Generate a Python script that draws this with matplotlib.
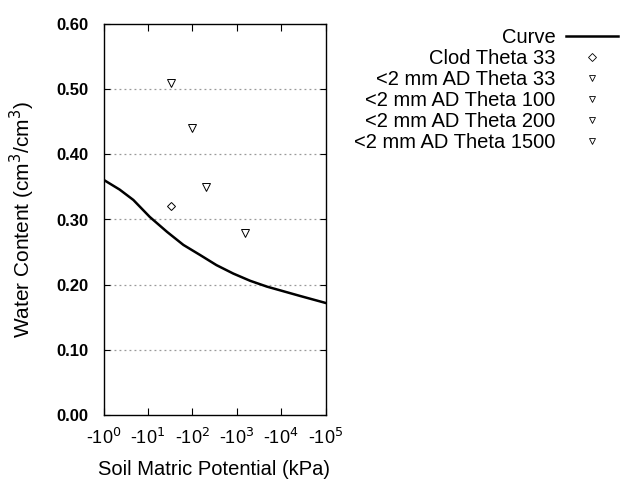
import matplotlib
matplotlib.use("Agg")
import matplotlib.pyplot as plt
from matplotlib.lines import Line2D

plt.rcParams['font.family'] = ['Liberation Sans', 'DejaVu Sans']

# Curve (matric potential magnitude in kPa, water content)
curve_x = [1, 2.3, 4.7, 11, 27, 63, 150, 350, 840, 2000, 4800, 27000, 1e5]
curve_y = [0.361, 0.346, 0.330, 0.304, 0.281, 0.261, 0.2455, 0.230, 0.217, 0.206, 0.197, 0.1826, 0.172]

clod_x = [33]
clod_y = [0.32]

ad_labels = ['<2 mm AD Theta 33', '<2 mm AD Theta 100', '<2 mm AD Theta 200', '<2 mm AD Theta 1500']
ad_x = [33, 100, 200, 1500]
ad_y = [0.51, 0.44, 0.35, 0.28]

xtick_vals = [1, 10, 100, 1000, 10000, 100000]
xtick_labels = [r'-10$^{%d}$' % i for i in range(6)]
ytick_vals = [0.0, 0.1, 0.2, 0.3, 0.4, 0.5, 0.6]

fig = plt.figure(figsize=(6.4, 4.8), dpi=100)
ax = fig.add_axes([103.5/640, 1-415/480, 222/640, 391/480])

ax.plot(curve_x, curve_y, color='black', lw=1.8, zorder=3)
ax.plot(clod_x, clod_y, linestyle='none', marker='D', markersize=4.2, mfc='white', mec='black', mew=0.7, zorder=4)
for x, y in zip(ad_x, ad_y):
    ax.plot([x], [y], linestyle='none', marker='v', markersize=6, mfc='white', mec='black', mew=0.7, zorder=4)

ax.set_xscale('log')
ax.set_xlim(1, 1e5)
ax.set_ylim(0, 0.6)
ax.set_xticks(xtick_vals)
ax.set_xticklabels(xtick_labels, fontsize=13)
ax.xaxis.set_minor_locator(matplotlib.ticker.NullLocator())
ax.set_yticks(ytick_vals)
ax.set_yticklabels(['%.2f' % v for v in ytick_vals], fontsize=12, fontweight='bold')
ax.tick_params(axis='x', direction='in', length=5, top=True, bottom=True, pad=9)
ax.tick_params(axis='y', direction='in', length=4, left=True, right=True, pad=11)
for v in ytick_vals[1:-1]:
    ax.axhline(v, color='#999999', lw=0.9, ls=(0, (1.5, 2.5)), zorder=1)
for s in ax.spines.values():
    s.set_linewidth(1.0)

ax.set_xlabel('Soil Matric Potential (kPa)', fontsize=14.5, labelpad=9)
ax.set_ylabel(r'Water Content (cm$^3$/cm$^3$)', fontsize=15, labelpad=14)

handles = [Line2D([], [], color='black', lw=1.8),
           Line2D([], [], ls='none', marker='D', markersize=3.8, mfc='white', mec='black', mew=0.6)]
handles += [Line2D([], [], ls='none', marker='v', markersize=5, mfc='white', mec='black', mew=0.6) for _ in ad_labels]
labels = ['Curve', 'Clod Theta 33'] + ad_labels
leg = fig.legend(handles, labels, loc='upper right', bbox_to_anchor=(626/640, 1-20/480),
                 markerfirst=False, frameon=False, fontsize=14.5, handlelength=2.6,
                 labelspacing=0.1, handletextpad=0.5, borderaxespad=0)
for t in leg.get_texts():
    t.set_ha('right')
leg._legend_box.align = 'right'

fig.savefig('out.png', dpi=100)
